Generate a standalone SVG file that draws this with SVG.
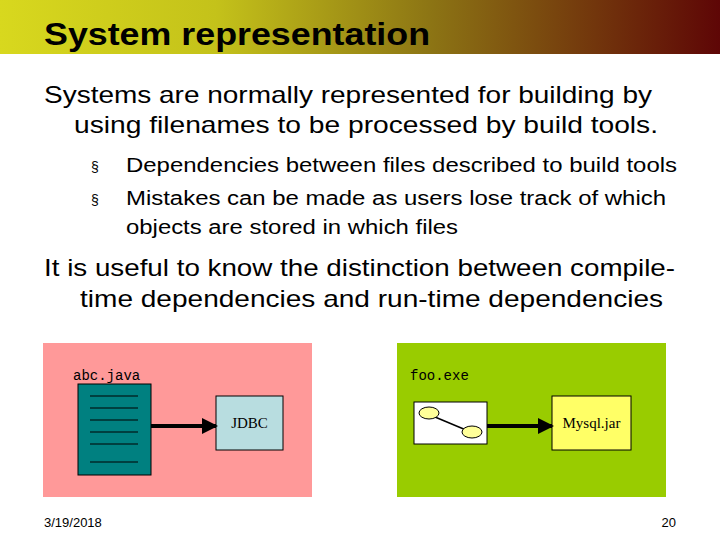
<svg xmlns="http://www.w3.org/2000/svg" width="720" height="540" viewBox="0 0 720 540">
<defs>
<linearGradient id="hg" x1="0" x2="1" y1="0" y2="0">
<stop offset="0" stop-color="#d8d81e"/><stop offset="0.3" stop-color="#c4c21a"/><stop offset="0.6" stop-color="#8c7414"/><stop offset="1" stop-color="#5e0606"/>
</linearGradient>
<marker id="ah" markerWidth="4" markerHeight="4" refX="3.5" refY="2" orient="auto" markerUnits="strokeWidth"><path d="M0,0 L4,2 L0,4 z" fill="#000"/></marker>
<style>
.s{font-family:"Liberation Sans",Arial,sans-serif;fill:#000}
.m{font-family:"Liberation Mono","Courier New",monospace;font-size:14px}
.t{font-family:"Liberation Serif","Times New Roman",serif;font-size:15px}
.ln{stroke:#000;stroke-width:1}
</style>
</defs>
<rect width="720" height="540" fill="#fff"/>
<rect width="720" height="54" fill="url(#hg)"/>
<text class="s" x="44" y="45" font-size="31" font-weight="bold" textLength="386" lengthAdjust="spacingAndGlyphs">System representation</text>
<text class="s" x="44" y="103" font-size="24" textLength="608" lengthAdjust="spacingAndGlyphs">Systems are normally represented for building by</text>
<text class="s" x="74" y="133" font-size="24" textLength="584" lengthAdjust="spacingAndGlyphs">using filenames to be processed by build tools.</text>
<text class="s" x="91" y="172" font-size="14">§</text>
<text class="s" x="126" y="172" font-size="20" textLength="551" lengthAdjust="spacingAndGlyphs">Dependencies between files described to build tools</text>
<text class="s" x="91" y="205" font-size="14">§</text>
<text class="s" x="126" y="205" font-size="20" textLength="540" lengthAdjust="spacingAndGlyphs">Mistakes can be made as users lose track of which</text>
<text class="s" x="126" y="234" font-size="20" textLength="332" lengthAdjust="spacingAndGlyphs">objects are stored in which files</text>
<text class="s" x="44" y="276" font-size="24" textLength="631" lengthAdjust="spacingAndGlyphs">It is useful to know the distinction between compile-</text>
<text class="s" x="80" y="307" font-size="24" textLength="583" lengthAdjust="spacingAndGlyphs">time dependencies and run-time dependencies</text>
<rect x="43" y="343" width="269" height="154" fill="#ff9999"/>
<rect x="397" y="343" width="269" height="154" fill="#99cc00"/>
<g id="abc">
<text class="m" x="73" y="380">abc.java</text>
<rect x="78" y="384" width="73" height="91" fill="#008080" stroke="#000"/>
<path class="ln" d="M90,396H138M90,408H138M90,420H138M90,432H138M90,444H138M90,462H138"/>
</g>
<g id="jdbc"><rect x="216" y="396" width="67" height="54" fill="#b8dde0" stroke="#000"/><text class="t" x="249.5" y="428" text-anchor="middle">JDBC</text></g>
<g id="foo">
<text class="m" x="410" y="380">foo.exe</text>
<rect x="414" y="402" width="73" height="42" fill="#fff" stroke="#000"/>
<line x1="435" y1="417" x2="466" y2="430" stroke="#000" stroke-width="1.5"/>
<ellipse cx="429" cy="413" rx="10" ry="6" fill="#ffff99" stroke="#000"/>
<ellipse cx="472" cy="432" rx="10" ry="6" fill="#ffff99" stroke="#000"/>
</g>
<g id="mysql"><rect x="552" y="396" width="79" height="54" fill="#ffff66" stroke="#000"/><text class="t" x="591.5" y="428" text-anchor="middle">Mysql.jar</text></g>
<g id="connectors">
<line x1="151" y1="426" x2="216" y2="426" stroke="#000" stroke-width="4" marker-end="url(#ah)"/>
<line x1="487" y1="426" x2="552" y2="426" stroke="#000" stroke-width="4" marker-end="url(#ah)"/>
</g>
<text class="s" x="44" y="527" font-size="13">3/19/2018</text>
<text class="s" x="676" y="527" font-size="13" text-anchor="end">20</text>
</svg>
